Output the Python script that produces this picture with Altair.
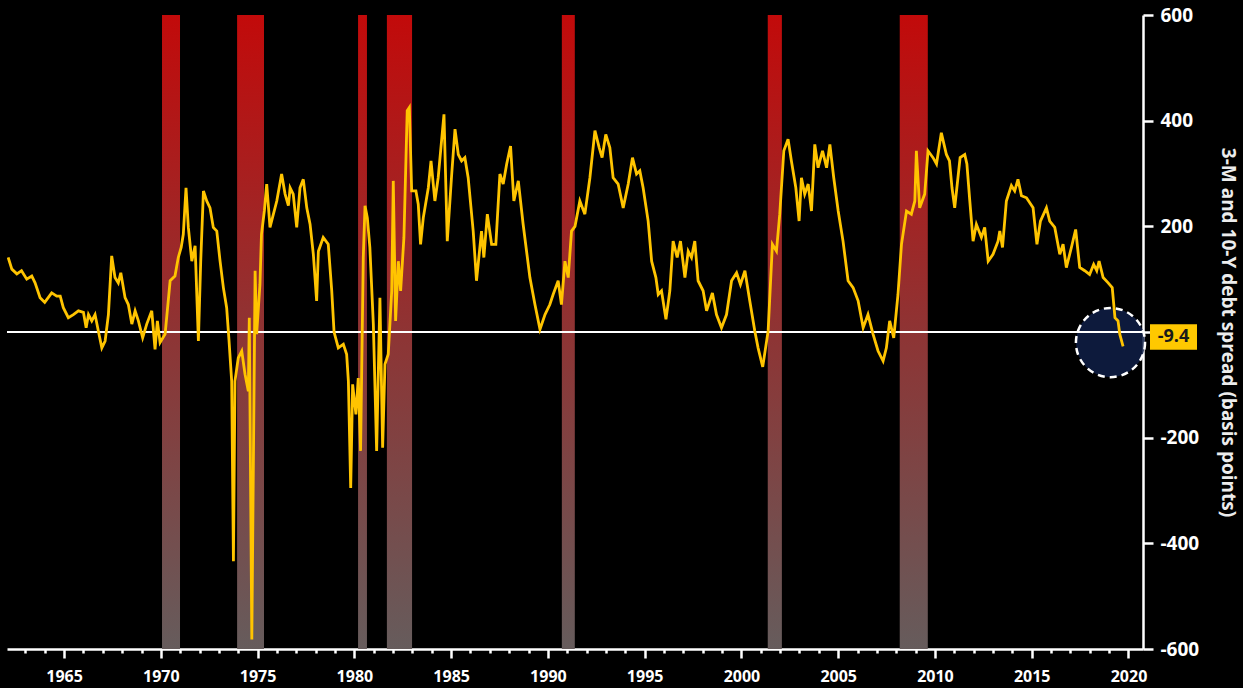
import altair as alt
import pandas as pd

years = [1962.11,1962.30,1962.56,1962.80,1963.07,1963.33,1963.50,1963.76,1964.00,1964.36,1964.62,1964.80,1964.96,
1965.22,1965.48,1965.74,1966.00,1966.14,1966.26,1966.43,1966.60,1966.77,1966.95,1967.12,1967.29,1967.46,1967.63,
1967.80,1967.93,1968.15,1968.32,1968.50,1968.67,1968.84,1969.06,1969.27,1969.53,1969.70,1969.82,1969.96,1970.22,
1970.48,1970.73,1970.90,1971.05,1971.16,1971.30,1971.42,1971.60,1971.77,1971.94,1972.06,1972.20,1972.37,1972.54,
1972.71,1972.89,1973.06,1973.23,1973.40,1973.52,1973.66,1973.75,1973.83,1974.00,1974.18,1974.35,1974.52,1974.57,
1974.70,1974.87,1974.95,1975.12,1975.20,1975.35,1975.47,1975.64,1975.99,1976.24,1976.42,1976.59,1976.68,1976.84,
1977.02,1977.19,1977.36,1977.54,1977.71,1977.88,1978.05,1978.14,1978.39,1978.65,1978.83,1978.95,1979.17,1979.43,
1979.60,1979.69,1979.81,1979.91,1980.08,1980.20,1980.32,1980.46,1980.55,1980.67,1980.80,1980.98,1981.15,1981.32,
1981.46,1981.58,1981.75,1981.93,1982.01,1982.13,1982.27,1982.39,1982.56,1982.73,1982.84,1982.96,1983.18,1983.30,
1983.42,1983.56,1983.82,1983.96,1984.16,1984.33,1984.63,1984.80,1985.03,1985.20,1985.37,1985.54,1985.71,1985.88,
1986.14,1986.31,1986.57,1986.69,1986.87,1987.09,1987.31,1987.52,1987.69,1987.87,1988.07,1988.24,1988.47,1988.72,
1989.07,1989.33,1989.59,1989.85,1990.10,1990.27,1990.53,1990.70,1990.88,1991.05,1991.22,1991.40,1991.65,1991.91,
1992.17,1992.43,1992.65,1992.80,1992.99,1993.20,1993.37,1993.63,1993.89,1994.15,1994.37,1994.58,1994.75,1994.92,
1995.18,1995.36,1995.58,1995.70,1995.87,1996.10,1996.30,1996.47,1996.68,1996.85,1997.08,1997.25,1997.42,1997.59,
1997.76,1998.02,1998.20,1998.50,1998.71,1998.97,1999.23,1999.49,1999.75,1999.95,2000.18,2000.43,2000.69,2000.86,
2001.10,2001.38,2001.60,2001.81,2001.98,2002.19,2002.41,2002.58,2002.81,2002.98,2003.10,2003.27,2003.45,2003.62,
2003.79,2003.96,2004.19,2004.40,2004.57,2004.77,2005.00,2005.25,2005.51,2005.77,2006.03,2006.29,2006.54,2006.80,
2007.06,2007.32,2007.49,2007.66,2007.87,2008.09,2008.27,2008.53,2008.78,2008.96,2009.04,2009.21,2009.47,2009.64,
2009.90,2010.08,2010.33,2010.59,2010.75,2010.88,2011.02,2011.30,2011.54,2011.65,2011.80,2011.97,2012.14,2012.40,
2012.57,2012.75,2013.00,2013.26,2013.35,2013.49,2013.69,2013.95,2014.12,2014.29,2014.47,2014.73,2015.07,2015.27,
2015.45,2015.76,2015.93,2016.19,2016.45,2016.62,2016.79,2017.05,2017.27,2017.48,2017.74,2017.99,2018.20,2018.36,
2018.48,2018.69,2018.95,2019.16,2019.24,2019.30,2019.46,2019.55,2019.72]

spread = [141,119,110,116,100,106,93,65,56,74,68,68,46,
27,33,40,37,8,33,21,33,2,-30,-17,33,144,103,
93,112,65,52,15,40,21,-11,15,40,-33,21,-20,-4,
97,106,141,160,185,273,198,134,163,-17,134,267,248,235,
198,191,134,84,46,-15,-93,-434,-93,-49,-36,-80,-112,27,
-582,116,-4,90,185,230,280,198,248,299,261,239,273,261,
198,273,289,235,204,147,59,153,179,166,78,0,-30,-23,
-42,-93,-295,-99,-156,-87,-225,141,239,216,160,15,-225,65,
-219,-61,-42,78,286,21,134,78,179,419,425,267,267,242,
166,216,273,324,248,292,412,172,299,384,336,324,330,292,
191,97,191,141,223,166,166,299,280,318,352,248,286,204,
103,52,5,33,52,71,97,52,134,103,191,200,248,223,
292,381,349,330,374,349,292,280,235,280,330,299,305,273,
210,134,103,71,78,24,78,172,141,172,103,153,141,172,
97,78,40,74,33,8,33,97,112,90,116,59,2,-30,
-66,2,166,153,223,343,365,324,273,210,292,261,280,229,
355,311,343,311,355,292,229,172,97,84,59,8,33,-4,
-36,-55,-30,21,-11,71,166,229,223,248,343,235,261,343,
330,318,377,336,324,273,235,330,336,318,248,172,204,179,
198,134,147,172,191,160,248,277,267,289,258,254,235,166,
210,235,210,198,147,166,122,160,194,122,116,109,128,116,
134,103,93,84,52,27,21,-4,-27]

rec_start = [1970.06, 1973.94, 1980.19, 1981.68, 1990.72, 2001.36, 2008.18]
rec_end = [1970.99, 1975.33, 1980.65, 1982.98, 1991.39, 2002.09, 2009.63]

latest_label = -9.4
circle_year = [2019.07]
circle_value = [-20]

y_ticks = [-600, -400, -200, 0, 200, 400, 600]
x_ticks = list(range(1963, 2021))

FONT = "Open Sans"
WHITE = "#ffffff"
GOLD = "#ffc400"

line_df = pd.DataFrame({"year": years, "value": spread})
rec_df = pd.DataFrame({"start": rec_start, "end": rec_end})
circ_df = pd.DataFrame({"year": circle_year, "value": circle_value})
lab_df = pd.DataFrame({"value": [latest_label], "lo": [latest_label - 24], "hi": [latest_label + 24],
                       "text": [f"{latest_label}"]})

xscale = alt.Scale(domain=[1962.05, 2020.75], nice=False, zero=False)
yscale = alt.Scale(domain=[-600, 600], nice=False, zero=False)

x_axis = alt.Axis(
    values=x_ticks,
    labelExpr="datum.value % 5 == 0 ? toString(datum.value) : ''",
    tickSize={"condition": {"test": "datum.value % 5 == 0", "value": 9}, "value": 4},
    grid=False, domainColor=WHITE, domainWidth=2.5, tickColor=WHITE, tickWidth=2.5,
    labelColor=WHITE, labelFont=FONT, labelFontSize=16, labelFontWeight="bold",
    labelPadding=10, labelOverlap=False, labelFlush=False, title=None,
)
y_axis = alt.Axis(
    orient="right", values=y_ticks, grid=False,
    labelExpr="toString(datum.value)",
    domainColor=WHITE, domainWidth=2.5, tickColor=WHITE, tickWidth=2.5, tickSize=10,
    labelColor=WHITE, labelFont=FONT, labelFontSize=19, labelFontWeight="bold", labelPadding=7,
    title="3-M and 10-Y debt spread (basis points)", titleColor="#ececec", titleFont=FONT,
    titleFontSize=19, titleFontWeight="bold", titlePadding=19,
)

grad = alt.Gradient(
    gradient="linear",
    stops=[alt.GradientStop(offset=0, color="#c20a0a"),
           alt.GradientStop(offset=0.5, color="#8e3434"),
           alt.GradientStop(offset=1, color="#665c5c")],
    x1=0, x2=0, y1=0, y2=1,
)

recess = alt.Chart(rec_df).mark_rect(color=grad).encode(
    x=alt.X("start:Q", scale=xscale, axis=x_axis),
    x2="end:Q",
    y=alt.Y(datum=600, scale=yscale, axis=y_axis),
    y2=alt.Y2(datum=-600),
)

circle = alt.Chart(circ_df).mark_point(
    shape="circle", filled=False, size=4780, fill="#0f1e47", fillOpacity=0.85,
    stroke=WHITE, strokeWidth=2.5, strokeDash=[7, 5], opacity=1,
).encode(
    x=alt.X("year:Q", scale=xscale, axis=x_axis),
    y=alt.Y("value:Q", scale=yscale, axis=y_axis),
)

zero = alt.Chart(line_df).mark_rule(color=WHITE, strokeWidth=1.5).encode(
    y=alt.Y(datum=0, scale=yscale, axis=y_axis),
)

line = alt.Chart(line_df).mark_line(color=GOLD, strokeWidth=2.8, clip=True).encode(
    x=alt.X("year:Q", scale=xscale, axis=x_axis),
    y=alt.Y("value:Q", scale=yscale, axis=y_axis),
    order="year:Q",
)

box = alt.Chart(lab_df).mark_rect(color="#ffc800").encode(
    x=alt.value(1143), x2=alt.value(1190),
    y=alt.Y("lo:Q", scale=yscale, axis=y_axis), y2="hi:Q",
)
boxtext = alt.Chart(lab_df).mark_text(font=FONT, fontSize=18, fontWeight="bold", color="#1a1a1a",
                                      align="center", baseline="middle").encode(
    x=alt.value(1166.5),
    y=alt.Y("value:Q", scale=yscale, axis=y_axis),
    text="text:N",
)

chart = alt.layer(recess, circle, zero, line, box, boxtext).properties(
    width=1136, height=634,
    autosize=alt.AutoSizeParams(type="none"),
    padding={"left": 7, "top": 15, "right": 100, "bottom": 39},
).configure(background="black").configure_view(stroke=None)

chart.save("out.html", embed_options={"renderer": "svg", "actions": False})
